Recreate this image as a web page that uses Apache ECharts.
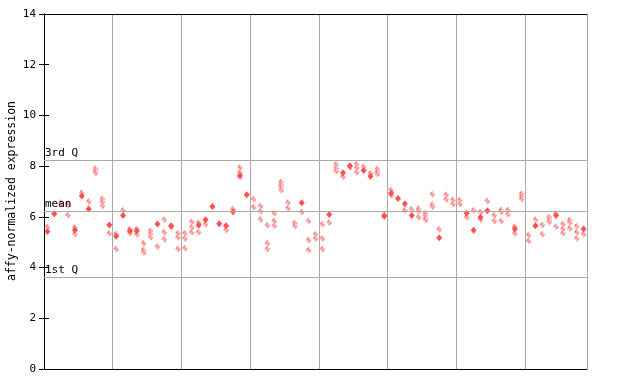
<!DOCTYPE html>
<html>
<head>
<meta charset="utf-8">
<script src="https://cdn.jsdelivr.net/npm/echarts@6/dist/echarts.min.js"></script>
<style>html,body{margin:0;padding:0;background:#fff}#c{width:640px;height:384px}</style>
</head>
<body>
<div id="c"></div>
<script>
// number of samples (columns)
const sampleCount = 79;
// y tick values
const yTicks = [0, 2, 4, 6, 8, 10, 12, 14];
// axis title
const yTitle = 'affy-normalized expression';
// reference lines
const quartileLabels = ['3rd Q', 'mean', '1st Q'];
const quartileValues = [8.24, 6.23, 3.63];
// hollow (patterned) replicate values per sample
const hollowValues = [
  [5.6], [], [6.57, 6.50], [6.53, 6.45, 6.07], [5.58, 5.32], [6.95], [6.61], [7.91, 7.82, 7.73], [6.70, 6.58, 6.43], [5.35],
  [5.32, 4.73], [6.26], [5.52, 5.36], [5.52, 5.30], [4.96, 4.69, 4.60], [5.45, 5.33, 5.20], [4.83], [5.90, 5.39, 5.12], [5.60], [5.35, 5.20, 4.73],
  [5.35, 5.15, 4.76], [5.81, 5.59, 5.39], [5.77, 5.39], [5.71], [], [], [5.48], [6.31], [7.95, 7.75, 7.57], [],
  [6.69, 6.38], [6.43, 6.22, 5.90], [5.67, 4.96, 4.73], [6.14, 5.84, 5.65], [7.37, 7.27, 7.17, 7.05], [6.57, 6.34], [5.76, 5.64], [6.19], [5.84, 5.09, 4.69], [5.31, 5.15],
  [5.71, 5.15, 4.73], [5.78], [8.07, 7.93, 7.80], [7.58], [7.95], [8.08, 7.94, 7.76], [7.98], [7.72], [7.89, 7.78, 7.69], [],
  [7.06, 6.85], [], [6.26], [6.30], [6.32, 6.23, 5.98], [6.14, 6.05, 5.94, 5.88], [6.89, 6.48, 6.40], [5.51], [6.87, 6.69], [6.66, 6.51],
  [6.66, 6.51], [5.98], [6.26], [6.19, 5.90], [6.63], [6.06, 5.84], [6.27, 6.19, 5.84], [6.27, 6.10], [5.61, 5.35], [6.91, 6.81, 6.70],
  [5.28, 5.05], [5.90], [5.68, 5.31], [5.98, 5.88, 5.80], [6.12, 5.61], [5.72, 5.52, 5.35], [5.88, 5.78, 5.55], [5.63, 5.39, 5.15], [5.31]
];
// filled replicate values per sample
const filledValues = [
  [5.42], [6.12], [], [], [5.48], [6.82], [6.31], [], [], [5.68],
  [5.24], [6.05], [5.44], [5.44], [], [], [5.72], [], [5.65], [],
  [], [], [5.67], [5.89], [6.41], [5.73], [5.65], [6.20], [7.63], [6.87],
  [], [], [], [], [], [], [], [6.56], [], [],
  [], [6.09], [], [7.74], [8.02], [], [7.83], [7.60], [], [6.05, 6.02],
  [6.93], [6.72], [6.52], [6.05], [], [], [], [5.18], [], [],
  [], [6.14], [5.47], [5.98], [6.24], [], [], [], [5.52], [],
  [], [5.65], [], [], [6.05], [], [], [], [5.52]
];

function toPoints(perSample) {
  const pts = [];
  perSample.forEach((vals, i) => vals.forEach(v => pts.push([i + 0.5, v])));
  return pts;
}

const red = '#ff5050';
const pc = document.createElement('canvas');
pc.width = 2; pc.height = 2;
const pctx = pc.getContext('2d');
pctx.fillStyle = '#ffffff'; pctx.fillRect(0, 0, 2, 2);
pctx.fillStyle = red; pctx.fillRect(0, 0, 1, 1); pctx.fillRect(1, 1, 1, 1);

const mono = 'DejaVu Sans Mono';
const chart = echarts.init(document.getElementById('c'), null, {renderer: 'canvas'});
chart.setOption({
  animation: false,
  grid: {left: 44, right: 53, top: 14, bottom: 15, containLabel: false, outerBoundsMode: 'none'},
  graphic: [{
    type: 'text', x: 12, y: 191, rotation: Math.PI / 2,
    style: {text: yTitle, fontFamily: mono, fontSize: 11.5, fill: '#000', align: 'center', verticalAlign: 'middle'}
  }],
  xAxis: [{
    type: 'value', min: 0, max: sampleCount, interval: 10,
    axisLine: {show: true, onZero: false, lineStyle: {color: '#000', width: 1}},
    axisTick: {show: false}, axisLabel: {show: false},
    splitLine: {show: true, lineStyle: {color: '#aaaaaa', width: 1}}
  }, {
    type: 'value', min: 0, max: sampleCount, position: 'top',
    axisLine: {show: true, onZero: false, lineStyle: {color: '#000', width: 1}},
    axisTick: {show: false}, axisLabel: {show: false}, splitLine: {show: false}
  }],
  yAxis: [{
    type: 'value', min: yTicks[0], max: yTicks[yTicks.length - 1], interval: 2,
    axisLine: {show: true, lineStyle: {color: '#000', width: 1}},
    axisTick: {show: true, inside: true, length: 5, lineStyle: {color: '#000'}},
    axisLabel: {fontFamily: mono, fontSize: 11, color: '#000', margin: 8},
    splitLine: {show: false}
  }, {
    type: 'value', min: yTicks[0], max: yTicks[yTicks.length - 1], interval: 2, position: 'right',
    axisLine: {show: true, lineStyle: {color: '#000', width: 1}},
    axisTick: {show: true, inside: true, length: 5, lineStyle: {color: '#000'}},
    axisLabel: {show: false}, splitLine: {show: false}
  }],
  series: [{
    type: 'scatter', symbol: 'diamond', symbolSize: [6, 7],
    data: toPoints(hollowValues),
    itemStyle: {color: {image: pc, repeat: 'repeat'}, opacity: 1},
    markLine: {
      silent: true, symbol: 'none',
      lineStyle: {color: '#aaaaaa', width: 1, type: 'solid'},
      label: {position: 'insideStartTop', distance: [1, 1], fontFamily: mono, fontSize: 11, color: '#000', formatter: p => p.name},
      data: quartileValues.map((v, i) => ({yAxis: v, name: quartileLabels[i]}))
    },
    z: 3
  }, {
    type: 'scatter', symbol: 'diamond', symbolSize: [6, 7],
    data: toPoints(filledValues),
    itemStyle: {color: red, opacity: 1},
    z: 4
  }]
});
</script>
</body>
</html>
